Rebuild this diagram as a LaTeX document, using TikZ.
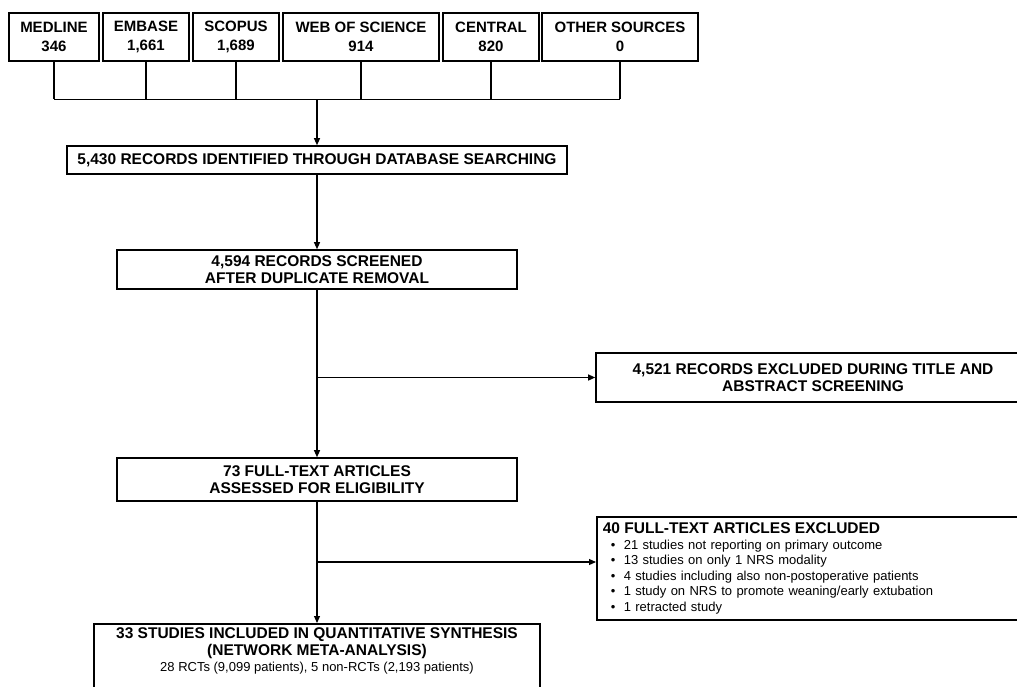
\documentclass[tikz,border=0pt]{standalone}
\usepackage{fontspec}
\setmainfont{Liberation Sans}
\usetikzlibrary{arrows.meta,calc}
\def\listdot{\hspace*{8pt}\makebox[13pt][l]{\textbullet}}

\begin{document}
\begin{tikzpicture}[x=1pt, y=-1pt,
	box/.style={draw, line width=1.6pt, align=center, inner sep=0pt, font=\bfseries\fontsize{15.5}{16.5}\selectfont},
	srcbox/.style={box, minimum height=48pt, font=\bfseries\fontsize{15}{19}\selectfont},
	link/.style={line width=1.1pt},
	arr/.style={link, -{Triangle[length=7pt, width=6pt]}}]
			%%%%% START %%%%%
			
			\useasboundingbox (0, 0) rectangle (1017, 687);
			\clip (0, 0) rectangle (1017, 687);
			
			\node[srcbox, minimum width=90pt] (medline) at (54, 37) {MEDLINE\\346};
			\node[srcbox, minimum width=86pt] (embase) at (146, 37) {EMBASE\\1,661};
			\node[srcbox, minimum width=86pt] (scopus) at (236, 37) {SCOPUS\\1,689};
			\node[srcbox, minimum width=156pt] (wos) at (361, 37) {WEB OF SCIENCE\\914};
			\node[srcbox, minimum width=96pt] (central) at (491, 37) {CENTRAL\\820};
			\node[srcbox, minimum width=156pt] (other) at (620, 37) {OTHER SOURCES\\0};
			
			\node[box, minimum width=500pt, minimum height=28pt] (found) at (317, 160) {5,430 RECORDS IDENTIFIED THROUGH DATABASE SEARCHING};
			\node[box, minimum width=400pt, minimum height=39pt] (screened) at (317, 269.5) {4,594 RECORDS SCREENED\\AFTER DUPLICATE REMOVAL};
			\node[box, minimum width=434pt, minimum height=49pt] (abstract) at (813, 377.5) {4,521 RECORDS EXCLUDED DURING TITLE AND\\ABSTRACT SCREENING};
			\node[box, minimum width=400pt, minimum height=43pt] (fulltext) at (317, 479.5) {73 FULL-TEXT ARTICLES\\ASSESSED FOR ELIGIBILITY};
			
			\node[box, anchor=north west, minimum height=103pt, text width=422pt, inner xsep=6pt, align=left, font=\fontsize{13}{15.5}\selectfont] (excluded) at (596, 516) {{\bfseries\fontsize{15.5}{15.5}\selectfont 40 FULL-TEXT ARTICLES EXCLUDED}\\
				\listdot 21 studies not reporting on primary outcome\\
				\listdot 13 studies on only 1 NRS modality\\
				\listdot 4 studies including also non-postoperative patients\\
				\listdot 1 study on NRS to promote weaning/early extubation\\
				\listdot 1 retracted study};
			
			\node[box, anchor=north, minimum width=446pt, inner ysep=4pt, text depth=40pt] (included) at (317, 623) {33 STUDIES INCLUDED IN QUANTITATIVE SYNTHESIS\\(NETWORK META-ANALYSIS)\\{\mdseries\fontsize{13}{15.5}\selectfont 28 RCTs (9,099 patients), 5 non-RCTs (2,193 patients)}};
			
			\coordinate (join) at ($(found.north)+(0, -46)$);
			\foreach \src in {medline, embase, scopus, wos, central, other}
				\draw[link] (\src.south) -- (\src.south |- join);
			\draw[link] (medline.south |- join) -- (other.south |- join);
			\draw[arr] (join) -- (found.north);
			
			\draw[arr] (found.south) -- (screened.north);
			\draw[arr] (screened.south) -- (fulltext.north);
			\draw[arr] (screened.south |- abstract.west) -- (abstract.west);
			\draw[arr] (fulltext.south) -- (included.north);
			
			\coordinate (exin) at ($(excluded.north west)+(0, 46)$);
			\draw[arr] (fulltext.south |- exin) -- (exin);
			
			%%%%% END %%%%%
		\end{tikzpicture}
\end{document}
